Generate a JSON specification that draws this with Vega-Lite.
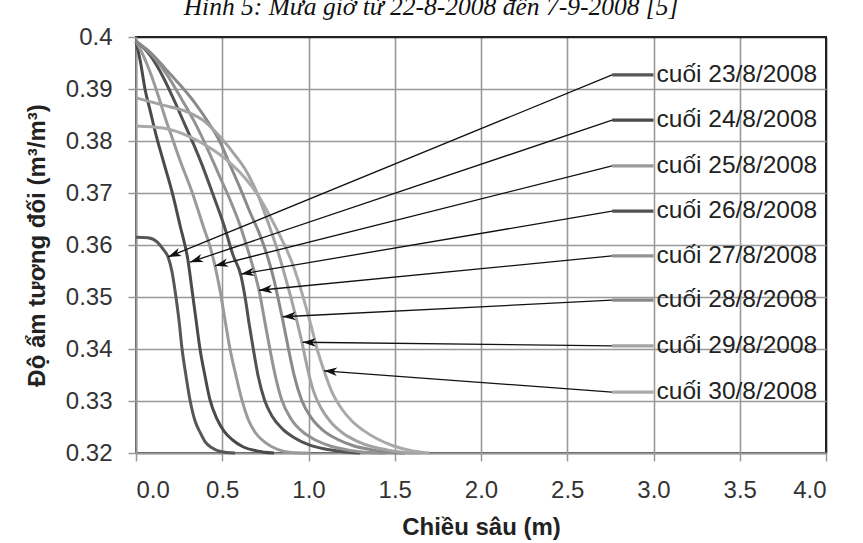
{
  "$schema": "https://vega.github.io/schema/vega-lite/v6.json",
  "autosize": {"type": "none"},
  "width": 690,
  "height": 416,
  "padding": {"left": 136, "top": 37, "right": 37, "bottom": 90},
  "background": "white",
  "title": {
    "text": "Hình 5: Mưa giờ từ 22-8-2008 đến 7-9-2008 [5]",
    "font": "Liberation Serif",
    "fontStyle": "italic",
    "fontWeight": "normal",
    "fontSize": 25.5,
    "color": "#111",
    "anchor": "middle",
    "frame": "group",
    "dx": -50,
    "offset": 5
  },
  "config": {
    "view": {"stroke": "#222", "strokeWidth": 2},
    "font": "Liberation Sans",
    "axis": {
      "labelFont": "Liberation Sans",
      "labelFontSize": 24,
      "labelColor": "#333",
      "titleFont": "Liberation Sans",
      "titleFontSize": 24,
      "titleFontWeight": "bold",
      "titleColor": "#222",
      "tickSize": 8,
      "tickColor": "#999",
      "tickWidth": 1.5,
      "domainColor": "#999",
      "domainWidth": 2,
      "gridWidth": 1.6,
      "labelPadding": 16
    }
  },
  "datasets": {
    "curves": [
      {"d": "cuối 23/8/2008", "x": 0, "y": 0.3615},
      {"d": "cuối 23/8/2008", "x": 0.07, "y": 0.3614},
      {"d": "cuối 23/8/2008", "x": 0.122, "y": 0.3606},
      {"d": "cuối 23/8/2008", "x": 0.157, "y": 0.3592},
      {"d": "cuối 23/8/2008", "x": 0.186, "y": 0.3577},
      {"d": "cuối 23/8/2008", "x": 0.209, "y": 0.3548},
      {"d": "cuối 23/8/2008", "x": 0.226, "y": 0.3513},
      {"d": "cuối 23/8/2008", "x": 0.249, "y": 0.3456},
      {"d": "cuối 23/8/2008", "x": 0.267, "y": 0.34},
      {"d": "cuối 23/8/2008", "x": 0.29, "y": 0.3348},
      {"d": "cuối 23/8/2008", "x": 0.313, "y": 0.3302},
      {"d": "cuối 23/8/2008", "x": 0.342, "y": 0.3262},
      {"d": "cuối 23/8/2008", "x": 0.371, "y": 0.324},
      {"d": "cuối 23/8/2008", "x": 0.4, "y": 0.3222},
      {"d": "cuối 23/8/2008", "x": 0.44, "y": 0.321},
      {"d": "cuối 23/8/2008", "x": 0.49, "y": 0.3203},
      {"d": "cuối 23/8/2008", "x": 0.574, "y": 0.32},

      {"d": "cuối 24/8/2008", "x": 0, "y": 0.3992},
      {"d": "cuối 24/8/2008", "x": 0.029, "y": 0.3946},
      {"d": "cuối 24/8/2008", "x": 0.052, "y": 0.39},
      {"d": "cuối 24/8/2008", "x": 0.081, "y": 0.386},
      {"d": "cuối 24/8/2008", "x": 0.116, "y": 0.3812},
      {"d": "cuối 24/8/2008", "x": 0.157, "y": 0.3763},
      {"d": "cuối 24/8/2008", "x": 0.209, "y": 0.3702},
      {"d": "cuối 24/8/2008", "x": 0.255, "y": 0.3638},
      {"d": "cuối 24/8/2008", "x": 0.301, "y": 0.3571},
      {"d": "cuối 24/8/2008", "x": 0.325, "y": 0.3513},
      {"d": "cuối 24/8/2008", "x": 0.348, "y": 0.3456},
      {"d": "cuối 24/8/2008", "x": 0.371, "y": 0.34},
      {"d": "cuối 24/8/2008", "x": 0.4, "y": 0.3348},
      {"d": "cuối 24/8/2008", "x": 0.429, "y": 0.3302},
      {"d": "cuối 24/8/2008", "x": 0.47, "y": 0.3265},
      {"d": "cuối 24/8/2008", "x": 0.51, "y": 0.3242},
      {"d": "cuối 24/8/2008", "x": 0.56, "y": 0.3225},
      {"d": "cuối 24/8/2008", "x": 0.62, "y": 0.3212},
      {"d": "cuối 24/8/2008", "x": 0.7, "y": 0.3204},
      {"d": "cuối 24/8/2008", "x": 0.8, "y": 0.32},

      {"d": "cuối 25/8/2008", "x": 0, "y": 0.3992},
      {"d": "cuối 25/8/2008", "x": 0.041, "y": 0.3965},
      {"d": "cuối 25/8/2008", "x": 0.081, "y": 0.3933},
      {"d": "cuối 25/8/2008", "x": 0.128, "y": 0.3888},
      {"d": "cuối 25/8/2008", "x": 0.174, "y": 0.384},
      {"d": "cuối 25/8/2008", "x": 0.214, "y": 0.3802},
      {"d": "cuối 25/8/2008", "x": 0.255, "y": 0.3763},
      {"d": "cuối 25/8/2008", "x": 0.325, "y": 0.3702},
      {"d": "cuối 25/8/2008", "x": 0.388, "y": 0.3638},
      {"d": "cuối 25/8/2008", "x": 0.435, "y": 0.359},
      {"d": "cuối 25/8/2008", "x": 0.458, "y": 0.356},
      {"d": "cuối 25/8/2008", "x": 0.487, "y": 0.3513},
      {"d": "cuối 25/8/2008", "x": 0.516, "y": 0.3456},
      {"d": "cuối 25/8/2008", "x": 0.545, "y": 0.34},
      {"d": "cuối 25/8/2008", "x": 0.58, "y": 0.3348},
      {"d": "cuối 25/8/2008", "x": 0.614, "y": 0.3302},
      {"d": "cuối 25/8/2008", "x": 0.65, "y": 0.3265},
      {"d": "cuối 25/8/2008", "x": 0.69, "y": 0.324},
      {"d": "cuối 25/8/2008", "x": 0.75, "y": 0.322},
      {"d": "cuối 25/8/2008", "x": 0.82, "y": 0.3207},
      {"d": "cuối 25/8/2008", "x": 0.9, "y": 0.3201},
      {"d": "cuối 25/8/2008", "x": 1.0, "y": 0.32},

      {"d": "cuối 26/8/2008", "x": 0, "y": 0.3992},
      {"d": "cuối 26/8/2008", "x": 0.081, "y": 0.3965},
      {"d": "cuối 26/8/2008", "x": 0.151, "y": 0.3927},
      {"d": "cuối 26/8/2008", "x": 0.22, "y": 0.3879},
      {"d": "cuối 26/8/2008", "x": 0.284, "y": 0.3831},
      {"d": "cuối 26/8/2008", "x": 0.336, "y": 0.3792},
      {"d": "cuối 26/8/2008", "x": 0.383, "y": 0.3754},
      {"d": "cuối 26/8/2008", "x": 0.441, "y": 0.3702},
      {"d": "cuối 26/8/2008", "x": 0.51, "y": 0.3638},
      {"d": "cuối 26/8/2008", "x": 0.562, "y": 0.3581},
      {"d": "cuối 26/8/2008", "x": 0.609, "y": 0.354},
      {"d": "cuối 26/8/2008", "x": 0.635, "y": 0.3494},
      {"d": "cuối 26/8/2008", "x": 0.657, "y": 0.3446},
      {"d": "cuối 26/8/2008", "x": 0.68, "y": 0.34},
      {"d": "cuối 26/8/2008", "x": 0.708, "y": 0.3348},
      {"d": "cuối 26/8/2008", "x": 0.745, "y": 0.3302},
      {"d": "cuối 26/8/2008", "x": 0.79, "y": 0.327},
      {"d": "cuối 26/8/2008", "x": 0.85, "y": 0.3246},
      {"d": "cuối 26/8/2008", "x": 0.92, "y": 0.3229},
      {"d": "cuối 26/8/2008", "x": 1.0, "y": 0.3216},
      {"d": "cuối 26/8/2008", "x": 1.09, "y": 0.3208},
      {"d": "cuối 26/8/2008", "x": 1.19, "y": 0.3203},
      {"d": "cuối 26/8/2008", "x": 1.3, "y": 0.32},

      {"d": "cuối 27/8/2008", "x": 0, "y": 0.3992},
      {"d": "cuối 27/8/2008", "x": 0.093, "y": 0.3965},
      {"d": "cuối 27/8/2008", "x": 0.18, "y": 0.3927},
      {"d": "cuối 27/8/2008", "x": 0.267, "y": 0.3879},
      {"d": "cuối 27/8/2008", "x": 0.348, "y": 0.3831},
      {"d": "cuối 27/8/2008", "x": 0.417, "y": 0.3783},
      {"d": "cuối 27/8/2008", "x": 0.481, "y": 0.3735},
      {"d": "cuối 27/8/2008", "x": 0.545, "y": 0.3687},
      {"d": "cuối 27/8/2008", "x": 0.603, "y": 0.3638},
      {"d": "cuối 27/8/2008", "x": 0.649, "y": 0.359},
      {"d": "cuối 27/8/2008", "x": 0.683, "y": 0.3552},
      {"d": "cuối 27/8/2008", "x": 0.713, "y": 0.3513},
      {"d": "cuối 27/8/2008", "x": 0.745, "y": 0.3456},
      {"d": "cuối 27/8/2008", "x": 0.776, "y": 0.34},
      {"d": "cuối 27/8/2008", "x": 0.808, "y": 0.3348},
      {"d": "cuối 27/8/2008", "x": 0.845, "y": 0.3302},
      {"d": "cuối 27/8/2008", "x": 0.9, "y": 0.3265},
      {"d": "cuối 27/8/2008", "x": 0.965, "y": 0.3241},
      {"d": "cuối 27/8/2008", "x": 1.04, "y": 0.3225},
      {"d": "cuối 27/8/2008", "x": 1.13, "y": 0.3213},
      {"d": "cuối 27/8/2008", "x": 1.24, "y": 0.3205},
      {"d": "cuối 27/8/2008", "x": 1.36, "y": 0.3201},
      {"d": "cuối 27/8/2008", "x": 1.45, "y": 0.32},

      {"d": "cuối 28/8/2008", "x": 0, "y": 0.3992},
      {"d": "cuối 28/8/2008", "x": 0.081, "y": 0.3971},
      {"d": "cuối 28/8/2008", "x": 0.168, "y": 0.394},
      {"d": "cuối 28/8/2008", "x": 0.255, "y": 0.3908},
      {"d": "cuối 28/8/2008", "x": 0.342, "y": 0.3873},
      {"d": "cuối 28/8/2008", "x": 0.417, "y": 0.3837},
      {"d": "cuối 28/8/2008", "x": 0.487, "y": 0.3798},
      {"d": "cuối 28/8/2008", "x": 0.545, "y": 0.3754},
      {"d": "cuối 28/8/2008", "x": 0.603, "y": 0.371},
      {"d": "cuối 28/8/2008", "x": 0.661, "y": 0.3663},
      {"d": "cuối 28/8/2008", "x": 0.719, "y": 0.3619},
      {"d": "cuối 28/8/2008", "x": 0.765, "y": 0.3575},
      {"d": "cuối 28/8/2008", "x": 0.8, "y": 0.3533},
      {"d": "cuối 28/8/2008", "x": 0.826, "y": 0.3494},
      {"d": "cuối 28/8/2008", "x": 0.853, "y": 0.3452},
      {"d": "cuối 28/8/2008", "x": 0.884, "y": 0.34},
      {"d": "cuối 28/8/2008", "x": 0.918, "y": 0.3348},
      {"d": "cuối 28/8/2008", "x": 0.96, "y": 0.3302},
      {"d": "cuối 28/8/2008", "x": 1.02, "y": 0.3266},
      {"d": "cuối 28/8/2008", "x": 1.09, "y": 0.3242},
      {"d": "cuối 28/8/2008", "x": 1.17, "y": 0.3226},
      {"d": "cuối 28/8/2008", "x": 1.26, "y": 0.3214},
      {"d": "cuối 28/8/2008", "x": 1.37, "y": 0.3206},
      {"d": "cuối 28/8/2008", "x": 1.48, "y": 0.3201},
      {"d": "cuối 28/8/2008", "x": 1.56, "y": 0.32},

      {"d": "cuối 29/8/2008", "x": 0, "y": 0.3883},
      {"d": "cuối 29/8/2008", "x": 0.157, "y": 0.3869},
      {"d": "cuối 29/8/2008", "x": 0.296, "y": 0.3856},
      {"d": "cuối 29/8/2008", "x": 0.4, "y": 0.3837},
      {"d": "cuối 29/8/2008", "x": 0.487, "y": 0.3808},
      {"d": "cuối 29/8/2008", "x": 0.574, "y": 0.3773},
      {"d": "cuối 29/8/2008", "x": 0.643, "y": 0.374},
      {"d": "cuối 29/8/2008", "x": 0.707, "y": 0.3696},
      {"d": "cuối 29/8/2008", "x": 0.765, "y": 0.3644},
      {"d": "cuối 29/8/2008", "x": 0.823, "y": 0.3587},
      {"d": "cuối 29/8/2008", "x": 0.87, "y": 0.3533},
      {"d": "cuối 29/8/2008", "x": 0.902, "y": 0.3494},
      {"d": "cuối 29/8/2008", "x": 0.934, "y": 0.3452},
      {"d": "cuối 29/8/2008", "x": 0.962, "y": 0.3413},
      {"d": "cuối 29/8/2008", "x": 0.996, "y": 0.336},
      {"d": "cuối 29/8/2008", "x": 1.03, "y": 0.3318},
      {"d": "cuối 29/8/2008", "x": 1.075, "y": 0.3285},
      {"d": "cuối 29/8/2008", "x": 1.13, "y": 0.3259},
      {"d": "cuối 29/8/2008", "x": 1.2, "y": 0.3238},
      {"d": "cuối 29/8/2008", "x": 1.28, "y": 0.3223},
      {"d": "cuối 29/8/2008", "x": 1.37, "y": 0.3212},
      {"d": "cuối 29/8/2008", "x": 1.47, "y": 0.3205},
      {"d": "cuối 29/8/2008", "x": 1.56, "y": 0.3201},
      {"d": "cuối 29/8/2008", "x": 1.64, "y": 0.32},

      {"d": "cuối 30/8/2008", "x": 0, "y": 0.3829},
      {"d": "cuối 30/8/2008", "x": 0.157, "y": 0.3825},
      {"d": "cuối 30/8/2008", "x": 0.313, "y": 0.3808},
      {"d": "cuối 30/8/2008", "x": 0.446, "y": 0.3783},
      {"d": "cuối 30/8/2008", "x": 0.545, "y": 0.3758},
      {"d": "cuối 30/8/2008", "x": 0.632, "y": 0.3729},
      {"d": "cuối 30/8/2008", "x": 0.707, "y": 0.3696},
      {"d": "cuối 30/8/2008", "x": 0.788, "y": 0.3648},
      {"d": "cuối 30/8/2008", "x": 0.846, "y": 0.361},
      {"d": "cuối 30/8/2008", "x": 0.899, "y": 0.3571},
      {"d": "cuối 30/8/2008", "x": 0.939, "y": 0.3533},
      {"d": "cuối 30/8/2008", "x": 0.974, "y": 0.3494},
      {"d": "cuối 30/8/2008", "x": 1.014, "y": 0.3446},
      {"d": "cuối 30/8/2008", "x": 1.05, "y": 0.34},
      {"d": "cuối 30/8/2008", "x": 1.09, "y": 0.3358},
      {"d": "cuối 30/8/2008", "x": 1.135, "y": 0.3318},
      {"d": "cuối 30/8/2008", "x": 1.19, "y": 0.3286},
      {"d": "cuối 30/8/2008", "x": 1.25, "y": 0.3262},
      {"d": "cuối 30/8/2008", "x": 1.32, "y": 0.3243},
      {"d": "cuối 30/8/2008", "x": 1.4, "y": 0.3227},
      {"d": "cuối 30/8/2008", "x": 1.49, "y": 0.3214},
      {"d": "cuối 30/8/2008", "x": 1.59, "y": 0.3205},
      {"d": "cuối 30/8/2008", "x": 1.7, "y": 0.32}
    ],
    "labels": [
      {"d": "cuối 23/8/2008", "lx1": 2.76, "lx2": 3.0, "ly": 0.3927, "tx": 0.186, "ty": 0.3577},
      {"d": "cuối 24/8/2008", "lx1": 2.76, "lx2": 3.0, "ly": 0.384, "tx": 0.313, "ty": 0.3567},
      {"d": "cuối 25/8/2008", "lx1": 2.76, "lx2": 3.0, "ly": 0.3752, "tx": 0.458, "ty": 0.356},
      {"d": "cuối 26/8/2008", "lx1": 2.76, "lx2": 3.0, "ly": 0.3665, "tx": 0.609, "ty": 0.3544},
      {"d": "cuối 27/8/2008", "lx1": 2.76, "lx2": 3.0, "ly": 0.3579, "tx": 0.713, "ty": 0.3513},
      {"d": "cuối 28/8/2008", "lx1": 2.76, "lx2": 3.0, "ly": 0.3494, "tx": 0.85, "ty": 0.3462},
      {"d": "cuối 29/8/2008", "lx1": 2.76, "lx2": 3.0, "ly": 0.3406, "tx": 0.966, "ty": 0.3413},
      {"d": "cuối 30/8/2008", "lx1": 2.76, "lx2": 3.0, "ly": 0.3317, "tx": 1.09, "ty": 0.3358}
    ]
  },
  "layer": [
    {
      "data": {"name": "curves"},
      "mark": {"type": "line", "strokeWidth": 3, "interpolate": "monotone"},
      "encoding": {
        "x": {
          "field": "x", "type": "quantitative",
          "scale": {"domain": [0, 4], "nice": false},
          "axis": {
            "title": "Chiều sâu (m)",
            "values": [0, 0.5, 1, 1.5, 2, 2.5, 3, 3.5, 4],
            "format": ".1f",
            "labelPadding": 17,
            "titlePadding": 13,
            "gridColor": {"condition": {"test": "datum.value == 4", "value": "#222"}, "value": "#999"}
          }
        },
        "y": {
          "field": "y", "type": "quantitative",
          "scale": {"domain": [0.32, 0.4], "nice": false, "zero": false},
          "axis": {
            "title": "Độ ẩm tương đối (m³/m³)",
            "values": [0.32, 0.33, 0.34, 0.35, 0.36, 0.37, 0.38, 0.39, 0.4],
            "format": ".2~f",
            "titlePadding": 16,
            "gridColor": {"condition": {"test": "datum.value == 0.4", "value": "#222"}, "value": "#999"}
          }
        },
        "color": {
          "field": "d", "type": "nominal", "legend": null,
          "scale": {
            "domain": ["cuối 23/8/2008", "cuối 24/8/2008", "cuối 25/8/2008", "cuối 26/8/2008", "cuối 27/8/2008", "cuối 28/8/2008", "cuối 29/8/2008", "cuối 30/8/2008"],
            "range": ["#575757", "#4a4a4a", "#9a9a9a", "#515151", "#939393", "#8a8a8a", "#a3a3a3", "#a9a9a9"]
          }
        },
        "detail": {"field": "d"}
      }
    },
    {
      "data": {"name": "labels"},
      "mark": {"type": "rule", "color": "#111", "strokeWidth": 1.3},
      "encoding": {
        "x": {"field": "lx1", "type": "quantitative"},
        "y": {"field": "ly", "type": "quantitative"},
        "x2": {"field": "tx"},
        "y2": {"field": "ty"}
      }
    },
    {
      "data": {"name": "labels"},
      "transform": [
        {"calculate": "atan2((datum.ty - datum.ly) * 5200, -(datum.tx - datum.lx1) * 172.5) * 180 / PI", "as": "ang"}
      ],
      "mark": {"type": "point", "shape": "M0,0L2,-0.65L1.45,0L2,0.65Z", "filled": true, "color": "#111", "size": 170, "opacity": 1},
      "encoding": {
        "x": {"field": "tx", "type": "quantitative"},
        "y": {"field": "ty", "type": "quantitative"},
        "angle": {"field": "ang", "type": "quantitative", "scale": null}
      }
    },
    {
      "data": {"name": "labels"},
      "mark": {"type": "rule", "strokeWidth": 3.2},
      "encoding": {
        "x": {"field": "lx1", "type": "quantitative"},
        "x2": {"field": "lx2"},
        "y": {"field": "ly", "type": "quantitative"},
        "color": {"field": "d", "type": "nominal", "legend": null}
      }
    },
    {
      "data": {"name": "labels"},
      "mark": {"type": "text", "align": "left", "baseline": "middle", "dx": 3, "fontSize": 24.5, "font": "Liberation Sans", "color": "#222"},
      "encoding": {
        "x": {"field": "lx2", "type": "quantitative"},
        "y": {"field": "ly", "type": "quantitative"},
        "text": {"field": "d"}
      }
    }
  ]
}
